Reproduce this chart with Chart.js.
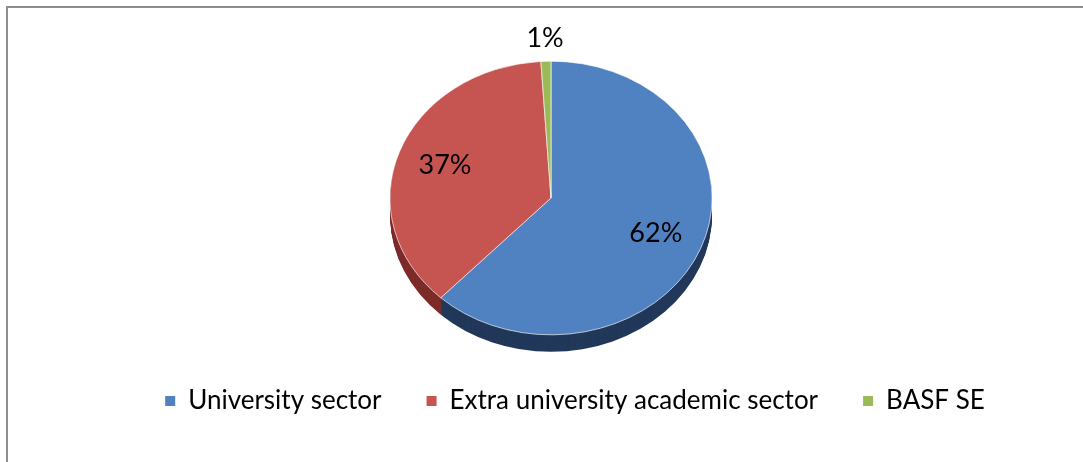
<!DOCTYPE html>
<html>
<head>
<meta charset="utf-8">
<script src="https://cdn.jsdelivr.net/npm/chart.js@4"></script>
<style>
  html, body { margin: 0; padding: 0; background: #fff; }
  #wrap { position: relative; width: 1083px; height: 462px; }
  #frame {
    position: absolute; left: 6px; top: 6px; right: 0; bottom: 0;
    border-left: 2px solid #8e8e8e; border-top: 2px solid #8e8e8e;
    pointer-events: none;
  }
</style>
</head>
<body>
<div id="wrap">
  <canvas id="pie" width="1083" height="462"></canvas>
  <div id="frame"></div>
</div>
<script>
const categories = ["University sector", "Extra university academic sector", "BASF SE"];
const shares = [62, 37, 1];
const sliceColors = ["#5081c0", "#c65451", "#9bbb59"];
const sideColors = ["#22385a", "#7c2b29", "#5e7a2c"];

// tilted pie: centre on screen, vertical squash and edge depth
const CX = 551, CY = 198, RADIUS = 161, SQUASH = 0.85, DEPTH = 17;
const FONT = "Lato";

function sectorPath(ctx, a) {
  ctx.beginPath();
  ctx.moveTo(a.x, a.y);
  ctx.arc(a.x, a.y, a.outerRadius, a.startAngle, a.endAngle);
  ctx.closePath();
}

const tiltPlugin = {
  id: "tilt",
  beforeDatasetsDraw(chart) {
    const ctx = chart.ctx;
    const arcs = chart.getDatasetMeta(0).data;
    const x0 = arcs[0].x, y0 = arcs[0].y;
    ctx.save();
    ctx.translate(CX, CY);
    ctx.scale(1, SQUASH);
    ctx.translate(-x0, -y0);
    // extruded edge, drawn back to front
    for (let d = DEPTH; d >= 1; d--) {
      arcs.forEach((a, i) => {
        ctx.save();
        ctx.translate(0, d / SQUASH);
        sectorPath(ctx, a);
        ctx.fillStyle = sideColors[i];
        ctx.fill();
        ctx.restore();
      });
    }
  },
  afterDatasetsDraw(chart) {
    const ctx = chart.ctx;
    ctx.restore();
    const arcs = chart.getDatasetMeta(0).data;
    const total = shares.reduce((s, v) => s + v, 0);
    ctx.save();
    ctx.font = "27px " + FONT;
    ctx.fillStyle = "#000";
    ctx.textAlign = "center";
    ctx.textBaseline = "middle";
    arcs.forEach((a, i) => {
      const pct = Math.round(shares[i] / total * 100);
      const mid = (a.startAngle + a.endAngle) / 2;
      const f = pct < 5 ? 1.17 : 0.7;
      const x = CX + Math.cos(mid) * a.outerRadius * f;
      const y = CY + Math.sin(mid) * a.outerRadius * f * SQUASH;
      ctx.fillText(pct + "%", x, y);
    });
    ctx.restore();
  }
};

new Chart(document.getElementById("pie"), {
  type: "pie",
  data: {
    labels: categories,
    datasets: [{
      data: shares,
      backgroundColor: sliceColors,
      borderColor: "rgba(255,255,255,0.7)",
      borderWidth: 1,
      radius: RADIUS
    }]
  },
  options: {
    responsive: false,
    animation: false,
    events: [],
    layout: { padding: { left: 67, right: 0, top: 0, bottom: 38 } },
    plugins: {
      tooltip: { enabled: false },
      legend: {
        position: "bottom",
        labels: {
          boxWidth: 10,
          boxHeight: 10,
          padding: 45,
          color: "#000",
          font: { family: FONT, size: 26 },
          generateLabels(chart) {
            return categories.map((c, i) => ({
              text: c,
              fillStyle: sliceColors[i],
              strokeStyle: sliceColors[i],
              lineWidth: 0,
              index: i
            }));
          }
        }
      }
    }
  },
  plugins: [tiltPlugin]
});
</script>
</body>
</html>
